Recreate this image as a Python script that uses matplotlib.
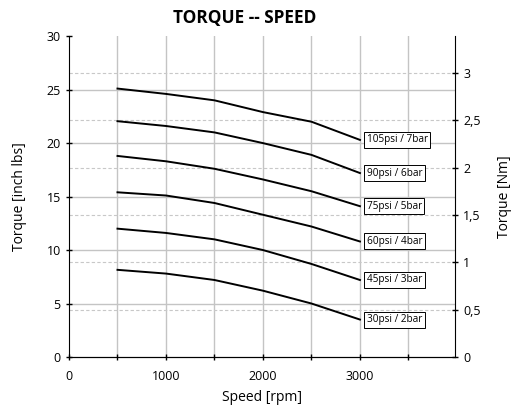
import numpy as np
import matplotlib
matplotlib.use('Agg')
import matplotlib.pyplot as plt

plt.rcParams['font.family'] = ['Open Sans', 'DejaVu Sans']

# velocidad [rpm]
speed = [500, 1000, 1500, 2000, 2500, 3000]

# par [inch lbs] por presion
labels = ['105psi / 7bar', '90psi / 6bar', '75psi / 5bar',
          '60psi / 4bar', '45psi / 3bar', '30psi / 2bar']
t105 = [25.1, 24.6, 24.0, 22.9, 22.0, 20.3]
t90 = [22.05, 21.6, 21.0, 20.0, 18.9, 17.2]
t75 = [18.8, 18.3, 17.6, 16.6, 15.5, 14.1]
t60 = [15.4, 15.1, 14.4, 13.3, 12.2, 10.8]
t45 = [12.0, 11.6, 11.0, 10.0, 8.7, 7.2]
t30 = [8.15, 7.8, 7.2, 6.2, 5.0, 3.5]
curvas = [t105, t90, t75, t60, t45, t30]

nm_ticks = [0, 0.5, 1, 1.5, 2, 2.5, 3]
nm_labels = ['0', '0,5', '1', '1,5', '2', '2,5', '3']
INLB_NM = 8.85

fig = plt.figure(figsize=(5.2, 4.11), dpi=100)
ax = fig.add_axes([0.1327, 0.1314, 0.7423, 0.7806])

ax.set_xlim(0, 3980)
ax.set_ylim(0, 30)
ax.set_xticks([0, 1000, 2000, 3000])
ax.set_xticks(np.arange(500, 4000, 1000), minor=True)
ax.set_yticks([0, 5, 10, 15, 20, 25, 30])

# rejilla
for xv in np.arange(500, 4000, 500):
    ax.axvline(xv, color='#c4c4c4', lw=1.0, zorder=0)
for yv in [5, 10, 15, 20, 25]:
    ax.axhline(yv, color='#c4c4c4', lw=1.0, zorder=0)
for nm in nm_ticks[1:]:
    ax.axhline(nm * INLB_NM, color='#c8c8c8', lw=0.8, ls=(0, (3, 2)), zorder=0)

for c, lab in zip(curvas, labels):
    ax.plot(speed, c, color='black', lw=1.4, zorder=3)
    ax.text(3070, c[-1], lab, fontsize=7.2, va='center', ha='left',
            bbox=dict(boxstyle='square,pad=0.25', fc='white', ec='black', lw=0.7),
            zorder=4)

ax.spines['top'].set_visible(False)
ax.spines['right'].set_visible(False)
ax.tick_params(which='both', direction='inout', length=5, width=1, labelsize=9)
ax.tick_params(axis='x', pad=7)
ax.set_xlabel('Speed [rpm]', fontsize=10, labelpad=5)
ax.set_ylabel('Torque [inch lbs]', fontsize=10, labelpad=14)
fig.text(0.471, 0.955, 'TORQUE -- SPEED', fontsize=12.4, fontweight='bold',
         ha='center', va='center')

ax2 = ax.twinx()
ax2.set_ylim(0, 30 / INLB_NM)
ax2.set_yticks(nm_ticks)
ax2.set_yticklabels(nm_labels)
ax2.spines['top'].set_visible(False)
ax2.spines['left'].set_visible(False)
ax2.tick_params(direction='inout', length=5, width=1, labelsize=9)
ax2.set_ylabel('Torque [Nm]', fontsize=10, labelpad=12)

fig.savefig('out.png', dpi=100)
